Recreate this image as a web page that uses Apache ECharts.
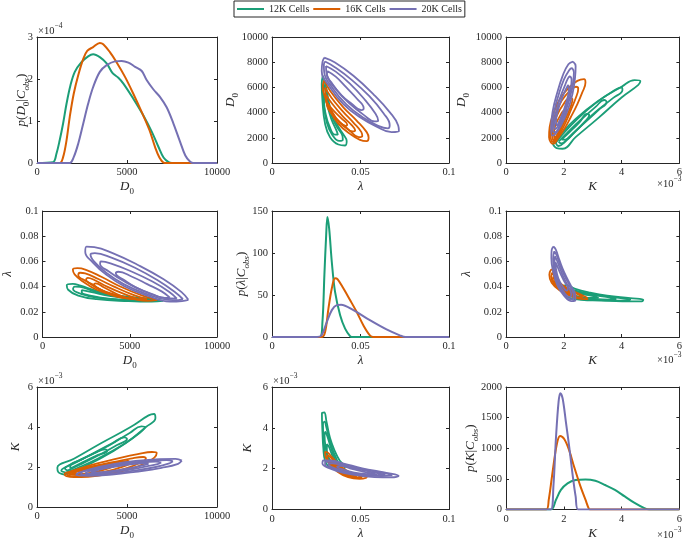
<!DOCTYPE html>
<html><head><meta charset="utf-8">
<script src="https://cdn.jsdelivr.net/npm/echarts@6/dist/echarts.min.js"></script>
<style>html,body{margin:0;padding:0;background:#fff}#c{width:685px;height:541px}</style>
</head><body><div id="c"></div>
<script>
// ---------- labels / ticks ----------
const seriesNames = ['12K Cells', '16K Cells', '20K Cells'];
const seriesColors = ['#1b9e77', '#d95f02', '#7570b3'];
const d0TicksX = [0, 5000, 10000];
const d0TicksY = [0, 2000, 4000, 6000, 8000, 10000];
const lamTicksX = [0, 0.05, 0.1];
const lamTicksY = [0, 0.02, 0.04, 0.06, 0.08, 0.1];
const kTicks = [0, 2, 4, 6];            // ×10^-3
const pD0Ticks = [0, 1, 2, 3];          // ×10^-4
const pLamTicks = [0, 50, 100, 150];
const pKTicks = [0, 500, 1000, 1500, 2000];

// ---------- marginal densities ----------
// p(D0|Cobs) in units of 1e-4
const pD0_12K = [[0,0],[890,0.02],[1080,0.22],[1260,0.54],[1450,0.94],[1640,1.41],[1860,1.85],[2100,2.17],[2470,2.40],[2840,2.54],[3120,2.59],[3490,2.52],[3870,2.37],[4200,2.14],[4520,2.03],[4800,1.89],[5350,1.53],[5910,1.13],[6380,0.74],[6750,0.38],[7030,0.13],[7310,0.02],[7500,0],[10000,0]];
const pD0_16K = [[0,0],[1260,0],[1450,0.14],[1640,0.54],[1820,1.10],[2040,1.65],[2290,2.09],[2570,2.48],[2790,2.67],[3120,2.76],[3490,2.86],[3680,2.83],[4050,2.64],[4420,2.40],[4890,2.05],[5350,1.65],[5820,1.21],[6250,0.78],[6560,0.38],[6800,0.13],[7030,0.01],[7200,0],[10000,0]];
const pD0_20K = [[0,0],[1820,0],[2040,0.14],[2290,0.46],[2570,0.94],[2840,1.41],[3120,1.81],[3490,2.17],[3870,2.33],[4330,2.42],[4700,2.43],[5080,2.39],[5450,2.29],[5820,2.19],[6100,1.97],[6470,1.75],[6840,1.57],[7210,1.32],[7580,0.94],[7920,0.54],[8240,0.18],[8510,0.03],[8700,0],[10000,0]];
// p(lambda|Cobs)
const pLam_12K = [[0,0],[0.027,0],[0.0285,18],[0.0296,74],[0.0306,121],[0.0313,143],[0.0323,129],[0.0338,89],[0.0356,54],[0.0385,26],[0.0413,10],[0.0441,1],[0.045,0],[0.1,0]];
const pLam_16K = [[0,0],[0.0281,0],[0.030,6],[0.0319,34],[0.0338,58],[0.0356,70],[0.037,69],[0.0403,58],[0.0441,44],[0.0478,30],[0.0516,14],[0.0553,2],[0.0572,0],[0.1,0]];
const pLam_20K = [[0,0],[0.0255,0],[0.028,2],[0.031,18],[0.0338,32],[0.0366,38],[0.039,38.5],[0.046,32],[0.0553,20],[0.0647,9],[0.0722,2],[0.0755,0],[0.1,0]];
// p(K|Cobs), K in units of 1e-3
const pK_12K = [[0,0],[1.55,0],[1.73,160],[1.90,320],[2.13,427],[2.41,480],[2.75,490],[3.09,469],[3.43,400],[3.77,320],[4.11,213],[4.45,107],[4.79,21],[4.95,0],[6,0]];
const pK_16K = [[0,0],[1.39,0],[1.48,160],[1.62,640],[1.76,1067],[1.87,1200],[2.02,1147],[2.19,960],[2.36,693],[2.58,373],[2.75,160],[2.87,11],[2.92,0],[6,0]];
const pK_20K = [[0,0],[1.55,0],[1.64,373],[1.73,1173],[1.82,1760],[1.88,1900],[1.96,1813],[2.07,1440],[2.19,1013],[2.30,587],[2.41,213],[2.50,0],[6,0]];

// ---------- joint contours (closed loops) ----------
// (lambda, D0)
const lamD0_12K = [
 [[0.0287,6920],[0.0306,6000],[0.0328,4420],[0.0366,3100],[0.0407,2180],[0.0422,1740],[0.0413,1390],[0.0375,1470],[0.0328,2050],[0.0300,3100],[0.0285,4940],[0.0281,6260]],
 [[0.0292,6300],[0.0308,5400],[0.0330,4000],[0.0365,2900],[0.0398,2150],[0.0400,1850],[0.0380,1750],[0.0340,2250],[0.0310,3200],[0.0293,4600],[0.0288,5700]],
 [[0.0298,5500],[0.0312,4600],[0.0335,3500],[0.0365,2550],[0.0372,2250],[0.0355,2250],[0.0325,2900],[0.0303,3900],[0.0294,4900]]
];
const lamD0_16K = [
 [[0.0295,6580],[0.0328,5730],[0.0403,4420],[0.0478,3370],[0.0535,2450],[0.0546,2000],[0.0535,1740],[0.0497,1840],[0.0441,2310],[0.0375,3100],[0.0328,4160],[0.0300,5210],[0.0287,6000]],
 [[0.0300,6000],[0.0335,5200],[0.0400,4100],[0.0460,3200],[0.0505,2450],[0.0510,2150],[0.0490,2050],[0.0440,2550],[0.0380,3250],[0.0335,4200],[0.0305,5100]],
 [[0.0305,5400],[0.0340,4700],[0.0400,3700],[0.0450,3000],[0.0470,2600],[0.0455,2500],[0.0410,2950],[0.0360,3550],[0.0320,4400],[0.0305,5000]],
 [[0.0310,4800],[0.0345,4200],[0.0395,3500],[0.0425,3050],[0.0415,2950],[0.0375,3350],[0.0335,3950],[0.0312,4500]]
];
const lamD0_20K = [
 [[0.0295,8360],[0.0356,7970],[0.0460,6920],[0.0572,5470],[0.0666,4020],[0.0713,2970],[0.0717,2520],[0.0675,2450],[0.0591,2890],[0.0497,3630],[0.0403,4680],[0.0328,6000],[0.0281,7310],[0.0285,8000]],
 [[0.0300,8050],[0.0355,7600],[0.0450,6600],[0.0550,5300],[0.0630,3950],[0.0665,3000],[0.0655,2750],[0.0600,2950],[0.0510,3650],[0.0420,4650],[0.0345,5900],[0.0295,7200],[0.0293,7800]],
 [[0.0305,7700],[0.0360,7250],[0.0440,6300],[0.0520,5100],[0.0585,3900],[0.0600,3350],[0.0580,3300],[0.0520,3800],[0.0440,4700],[0.0365,5800],[0.0310,7000]],
 [[0.0312,7300],[0.0360,6850],[0.0420,6000],[0.0480,5100],[0.0518,4350],[0.0505,4200],[0.0450,4700],[0.0390,5400],[0.0335,6400],[0.0310,7000]]
];
// (K ×1e-3, D0)
const kD0_12K = [
 [[1.62,1530],[1.85,2180],[2.41,3500],[3.20,4940],[4.00,6050],[4.45,6580],[4.65,6500],[4.58,6200],[4.00,5200],[3.20,3580],[2.41,2050],[1.96,1130],[1.75,1180]],
 [[1.72,1600],[1.95,2250],[2.45,3450],[3.10,4750],[3.70,5700],[4.00,6000],[4.03,5800],[3.70,5150],[3.10,4050],[2.50,2750],[2.05,1700],[1.82,1350]],
 [[1.82,1700],[2.10,2350],[2.60,3450],[3.10,4450],[3.40,5000],[3.48,4850],[3.20,4200],[2.65,3050],[2.15,2000],[1.92,1550]],
 [[1.92,1850],[2.20,2450],[2.55,3250],[2.80,3900],[2.88,3800],[2.70,3200],[2.35,2400],[2.05,1850]]
];
const kD0_16K = [
 [[1.56,1580],[1.49,2050],[1.51,2840],[1.68,4160],[1.90,5210],[2.19,6000],[2.47,6520],[2.70,6650],[2.75,6390],[2.64,5600],[2.47,4680],[2.24,3630],[2.02,2710],[1.79,1920],[1.64,1530]],
 [[1.60,1650],[1.54,2100],[1.57,2850],[1.72,3950],[1.93,4950],[2.20,5700],[2.42,6050],[2.50,5900],[2.42,5200],[2.26,4300],[2.08,3300],[1.88,2400],[1.70,1800]],
 [[1.64,1750],[1.60,2250],[1.63,2950],[1.77,3800],[1.97,4600],[2.20,5150],[2.30,5050],[2.25,4550],[2.08,3600],[1.90,2700],[1.74,2000]],
 [[1.68,1900],[1.66,2400],[1.72,3050],[1.86,3700],[2.02,4150],[2.10,4150],[2.05,3700],[1.92,3000],[1.78,2300]]
];
const kD0_20K = [
 [[2.32,8050],[2.41,7700],[2.39,6790],[2.30,5470],[2.13,4160],[1.90,2970],[1.71,2310],[1.60,2180],[1.56,2840],[1.62,4160],[1.76,5470],[1.96,6920],[2.16,7840]],
 [[2.28,7550],[2.35,7200],[2.32,6400],[2.22,5250],[2.06,4100],[1.86,3000],[1.70,2450],[1.63,2450],[1.62,3000],[1.68,4200],[1.82,5400],[2.00,6600],[2.18,7350]],
 [[2.22,6900],[2.27,6600],[2.23,5800],[2.12,4800],[1.97,3800],[1.80,2950],[1.70,2700],[1.67,3100],[1.74,4100],[1.86,5100],[2.03,6100],[2.14,6700]],
 [[2.15,6200],[2.18,5900],[2.12,5100],[2.00,4200],[1.86,3400],[1.76,3000],[1.73,3300],[1.79,4100],[1.90,4900],[2.04,5700]]
];
// (K ×1e-3, lambda)
const kLam_12K = [
 [[1.95,0.0395],[2.07,0.0412],[2.40,0.0382],[2.86,0.0355],[3.50,0.0328],[4.30,0.0308],[4.75,0.0295],[4.70,0.0282],[3.80,0.0285],[3.00,0.0290],[2.40,0.0300],[2.05,0.0330]],
 [[2.05,0.0385],[2.40,0.0368],[2.90,0.0344],[3.50,0.0322],[4.10,0.0305],[4.30,0.0298],[4.20,0.0288],[3.60,0.0290],[2.90,0.0298],[2.35,0.0315],[2.10,0.0350]],
 [[2.15,0.0372],[2.60,0.0350],[3.10,0.0330],[3.60,0.0312],[3.80,0.0302],[3.60,0.0297],[3.00,0.0304],[2.45,0.0320],[2.18,0.0345]],
 [[2.25,0.0358],[2.70,0.0338],[3.10,0.0320],[3.20,0.0310],[2.90,0.0310],[2.45,0.0325],[2.25,0.0342]]
];
const kLam_16K = [
 [[1.56,0.0535],[1.50,0.0495],[1.58,0.0430],[1.85,0.0370],[2.25,0.0325],[2.60,0.0302],[2.82,0.0300],[2.80,0.0312],[2.55,0.0340],[2.15,0.0385],[1.82,0.0440],[1.64,0.0505],[1.62,0.0535]],
 [[1.60,0.0510],[1.56,0.0480],[1.65,0.0425],[1.90,0.0372],[2.25,0.0333],[2.55,0.0312],[2.65,0.0314],[2.50,0.0338],[2.15,0.0378],[1.85,0.0425],[1.68,0.0480]],
 [[1.64,0.0480],[1.62,0.0455],[1.72,0.0415],[1.95,0.0378],[2.25,0.0342],[2.42,0.0328],[2.40,0.0338],[2.15,0.0368],[1.88,0.0410],[1.70,0.0455]],
 [[1.68,0.0450],[1.70,0.0420],[1.85,0.0392],[2.05,0.0365],[2.22,0.0348],[2.20,0.0356],[2.00,0.0380],[1.78,0.0420]]
];
const kLam_20K = [
 [[1.64,0.0718],[1.72,0.0695],[1.85,0.0610],[2.02,0.0510],[2.25,0.0405],[2.40,0.0330],[2.40,0.0290],[2.25,0.0285],[2.00,0.0330],[1.78,0.0410],[1.63,0.0520],[1.57,0.0625],[1.58,0.0690]],
 [[1.67,0.0680],[1.74,0.0655],[1.86,0.0580],[2.02,0.0490],[2.22,0.0400],[2.34,0.0335],[2.32,0.0300],[2.20,0.0300],[1.99,0.0345],[1.80,0.0420],[1.67,0.0520],[1.63,0.0620]],
 [[1.69,0.0640],[1.75,0.0615],[1.86,0.0550],[2.01,0.0465],[2.18,0.0390],[2.26,0.0340],[2.20,0.0318],[1.98,0.0365],[1.82,0.0430],[1.71,0.0520],[1.68,0.0600]],
 [[1.71,0.0595],[1.77,0.0565],[1.88,0.0505],[2.02,0.0440],[2.14,0.0385],[2.10,0.0368],[1.95,0.0405],[1.81,0.0465],[1.73,0.0540]]
];

// ---------- build chart ----------
const F = "'Liberation Serif','DejaVu Serif',serif";
const C = '#262626';
const rich = {
  i:{fontFamily:F,fontStyle:'italic',fontSize:13,color:C,lineHeight:18,verticalAlign:'middle'},
  r:{fontFamily:F,fontSize:13,color:C,lineHeight:18,verticalAlign:'middle'},
  s:{fontFamily:F,fontSize:9,color:C,lineHeight:18,verticalAlign:'bottom'},
  t:{fontFamily:F,fontStyle:'italic',fontSize:9,color:C,lineHeight:18,verticalAlign:'bottom'}
};
const N_D0 = '{i|D}{s|0}', N_L = '{i|λ}', N_K = '{i|K}';
const N_PD0 = '{i|p}{r|(}{i|D}{s|0}{r||}{i|C}{t|obs}{r|)}';
const N_PL = '{i|p}{r|(}{i|λ}{r||}{i|C}{t|obs}{r|)}';
const N_PK = '{i|p}{r|(}{i|K}{r||}{i|C}{t|obs}{r|)}';

const boxes = [
 [37,37,180,126],[272,37,177,126],[506,37,176,126],
 [37,211,180,126],[272,211,177,126],[506,211,176,126],
 [37,387,180,125],[272,387,177,125],[506,387,176,125]];
const panels = [
 {xt:d0TicksX, yt:pD0Ticks, xn:N_D0, yn:N_PD0, yg:6},
 {xt:lamTicksX, yt:d0TicksY, xn:N_L, yn:N_D0, yg:32},
 {xt:kTicks, yt:d0TicksY, xn:N_K, yn:N_D0, yg:35},
 {xt:d0TicksX, yt:lamTicksY, xn:N_D0, yn:N_L, yg:26},
 {xt:lamTicksX, yt:pLamTicks, xn:N_L, yn:N_PL, yg:21},
 {xt:kTicks, yt:lamTicksY, xn:N_K, yn:N_L, yg:30},
 {xt:d0TicksX, yt:kTicks, xn:N_D0, yn:N_K, yg:12},
 {xt:lamTicksX, yt:kTicks, xn:N_L, yn:N_K, yg:15},
 {xt:kTicks, yt:pKTicks, xn:N_K, yn:N_PK, yg:26}
];
const fmt = v => String(parseFloat(Number(v).toPrecision(10)));
const grid=[], xAxis=[], yAxis=[], series=[];
function base(g, ticks){
  return {type:'value', gridIndex:g, min:ticks[0], max:ticks[ticks.length-1], interval:ticks[1]-ticks[0],
    splitLine:{show:false}, nameMoveOverlap:false,
    axisLine:{show:true,onZero:false,lineStyle:{color:C,width:1}},
    axisTick:{show:true,inside:true,length:3,lineStyle:{color:C,width:1}}};
}
panels.forEach((p,g)=>{
  const [l,t,w,h]=boxes[g];
  grid.push({left:l,top:t,width:w,height:h,containLabel:false});
  xAxis.push(Object.assign(base(g,p.xt),{position:'bottom',
    axisLabel:{show:true,margin:4,fontFamily:F,fontSize:10.5,color:C,formatter:fmt},
    name:p.xn,nameLocation:'middle',nameGap:15,nameTextStyle:{rich:rich}}));
  xAxis.push(Object.assign(base(g,p.xt),{position:'top',axisLabel:{show:false}}));
  yAxis.push(Object.assign(base(g,p.yt),{position:'left',
    axisLabel:{show:true,margin:4,fontFamily:F,fontSize:10.5,color:C,formatter:fmt},
    name:p.yn,nameLocation:'middle',nameRotate:90,nameGap:p.yg,nameTextStyle:{rich:rich}}));
  yAxis.push(Object.assign(base(g,p.yt),{position:'right',axisLabel:{show:false}}));
});
function addLine(g, data, ci, w, isDensity){
  series.push({type:'line', name:seriesNames[ci], xAxisIndex:2*g, yAxisIndex:2*g, data:data,
    symbol:'none', showSymbol:false, smooth: isDensity ? 0.35 : 0.45,
    lineStyle:{color:seriesColors[ci], width:w}, itemStyle:{color:seriesColors[ci]},
    silent:true, animation:false, z:2+ci, clip:true});
}
const closeLoop = L => L.concat([L[0]]);
const swap = L => L.map(p=>[p[1],p[0]]);
function addLoops(g, loops, ci, doSwap){
  loops.forEach(L=>addLine(g, closeLoop(doSwap?swap(L):L), ci, 1.8, false));
}
// diagonal densities
[pD0_12K,pD0_16K,pD0_20K].forEach((d,ci)=>addLine(0,d,ci,2,true));
[pLam_12K,pLam_16K,pLam_20K].forEach((d,ci)=>addLine(4,d,ci,2,true));
[pK_12K,pK_16K,pK_20K].forEach((d,ci)=>addLine(8,d,ci,2,true));
// off-diagonal contours
[lamD0_12K,lamD0_16K,lamD0_20K].forEach((ls,ci)=>{addLoops(1,ls,ci,false); addLoops(3,ls,ci,true);});
[kD0_12K,kD0_16K,kD0_20K].forEach((ls,ci)=>{addLoops(2,ls,ci,false); addLoops(6,ls,ci,true);});
[kLam_12K,kLam_16K,kLam_20K].forEach((ls,ci)=>{addLoops(5,ls,ci,false); addLoops(7,ls,ci,true);});

const expRich = {
  a:{fontFamily:F,fontSize:10.5,fill:C,color:C,lineHeight:15,verticalAlign:'bottom'},
  b:{fontFamily:F,fontSize:7.5,fill:C,color:C,lineHeight:15,verticalAlign:'top'}
};
function expText(left, top, e){
  return {type:'text', left:left, top:top, silent:true,
    style:{text:'{a|×10}{b|−'+e+'}', rich:expRich, fill:C}};
}
const chart = echarts.init(document.getElementById('c'), null, {renderer:'canvas'});
chart.setOption({
  animation:false,
  backgroundColor:'#ffffff',
  grid:grid, xAxis:xAxis, yAxis:yAxis, series:series,
  legend:{show:true, data:seriesNames.map(n=>({name:n, icon:'rect'})), top:1, left:234, orient:'horizontal',
    itemWidth:27, itemHeight:2, itemGap:4,
    padding:[3,3,3,3], borderColor:C, borderWidth:1, borderRadius:0, selectedMode:false,
    textStyle:{fontFamily:F,fontSize:10,color:C}},
  graphic:[expText(38,22,'4'), expText(38,372,'3'), expText(273,372,'3'),
           expText(657,175,'3'), expText(657,351,'3'), expText(657,526,'3')]
});
</script></body></html>
